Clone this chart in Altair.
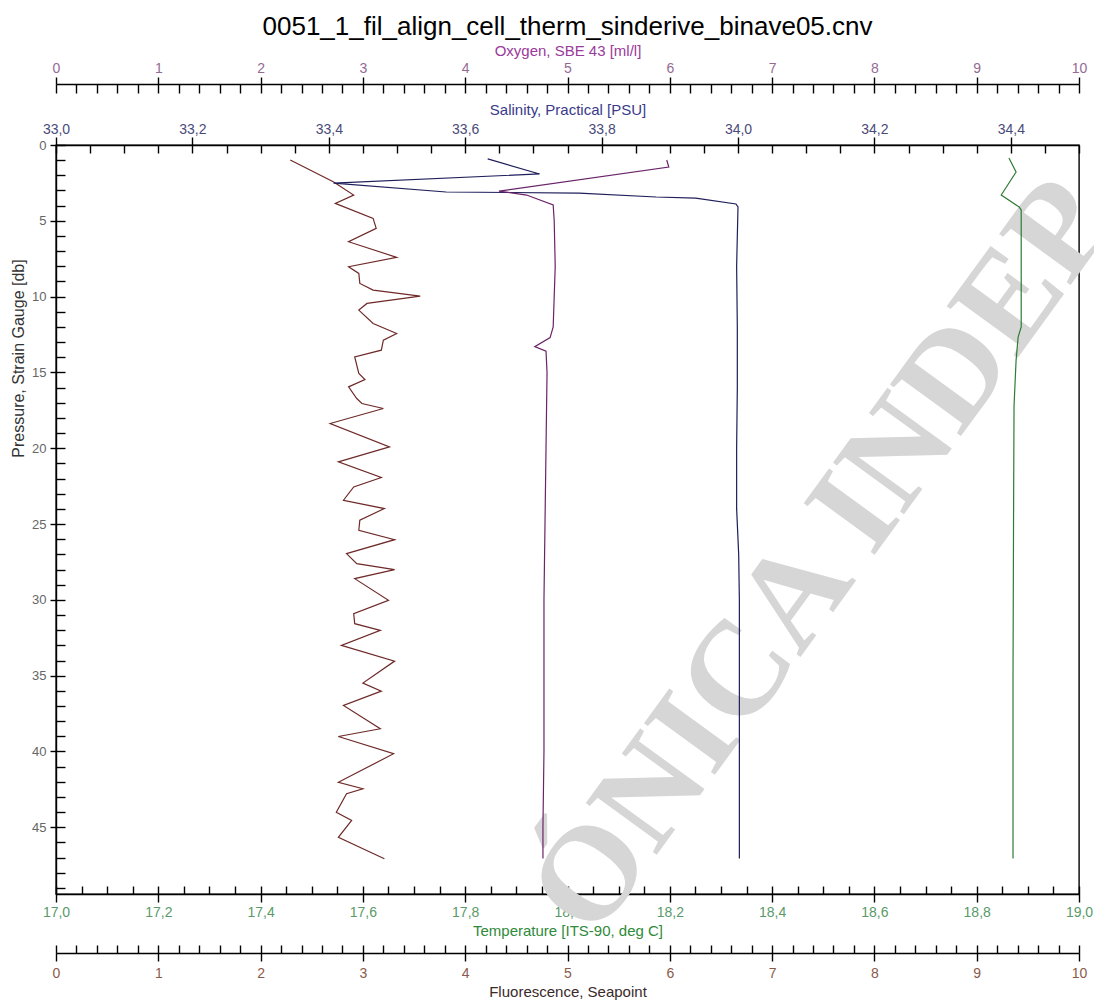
import altair as alt
import pandas as pd

TITLE = "0051_1_fil_align_cell_therm_sinderive_binave05.cnv"

# Fluorescence (Seapoint)
fl_p = [0.99, 2.42, 3.30, 3.85, 4.84, 5.50, 6.38, 7.41, 8.03, 8.47, 9.13, 9.57, 9.97, 10.45, 10.89,
        11.77, 12.43, 12.87, 13.53, 13.97, 15.07, 15.47, 15.95, 16.72, 17.05, 17.38, 18.37, 19.91,
        20.90, 21.93, 22.55, 23.43, 23.98, 24.75, 25.41, 26.03, 26.95, 27.61, 28.01, 28.60, 30.03,
        30.91, 31.57, 32.01, 33.00, 34.04, 35.49, 36.02, 36.96, 38.50, 39.01, 40.15, 42.03, 42.46,
        42.79, 44.01, 44.55, 45.66, 47.08]
fl_v = [2.29, 2.71, 2.91, 2.73, 3.10, 3.13, 2.86, 3.33, 2.86, 2.96, 2.97, 3.10, 3.56, 3.04, 2.96,
        3.10, 3.33, 3.20, 3.18, 2.92, 2.96, 3.02, 2.86, 2.94, 2.99, 3.20, 2.68, 3.26,
        2.76, 3.18, 2.91, 2.81, 3.21, 2.97, 2.96, 3.31, 2.84, 2.94, 3.31, 2.92, 3.25,
        2.91, 2.92, 3.17, 2.79, 3.31, 3.00, 3.18, 2.81, 3.17, 2.76, 3.30, 2.76, 3.00,
        2.84, 2.74, 2.89, 2.76, 3.21]

# Salinity, Practical [PSU]
sal_p = [0.92, 1.91, 2.51, 3.10, 3.17, 3.43, 3.50, 3.89, 4.09, 8.0, 12.0, 16.0, 20.0, 24.0, 27.0,
         30.0, 35.0, 40.0, 45.0, 47.06]
sal_v = [33.633, 33.709, 33.407, 33.572, 33.767, 33.880, 33.938, 33.997, 34.000, 33.998, 33.999,
         33.999, 33.998, 33.998, 34.001, 34.002, 34.002, 34.002, 34.002, 34.002]

# Oxygen, SBE 43 [ml/l]
ox_p = [0.99, 1.45, 3.04, 3.30, 3.96, 5.0, 8.0, 10.0, 12.0, 12.7, 13.3, 13.6, 15.0, 20.0, 25.0,
        30.0, 35.0, 40.0, 45.0, 47.06]
ox_v = [5.97, 5.99, 4.33, 4.60, 4.86, 4.87, 4.88, 4.87, 4.86, 4.83, 4.68, 4.79, 4.80, 4.79, 4.78,
        4.77, 4.77, 4.77, 4.76, 4.76]

# Temperature [ITS-90, deg C]
tp_p = [0.86, 1.78, 3.30, 4.09, 4.29, 8.0, 12.0, 12.67, 14.2, 17.2, 25.0, 35.0, 47.06]
tp_v = [18.863, 18.877, 18.848, 18.883, 18.887, 18.887, 18.887, 18.881, 18.877, 18.873, 18.872,
        18.871, 18.871]

# axis tick values
ox_major = [0, 1, 2, 3, 4, 5, 6, 7, 8, 9, 10]
ox_minor = [round(i * 0.2, 2) for i in range(51)]
sal_major = [33.0, 33.2, 33.4, 33.6, 33.8, 34.0, 34.2, 34.4]
sal_minor = [round(33.0 + i * 0.05, 2) for i in range(31)]
tp_major = [17.0, 17.2, 17.4, 17.6, 17.8, 18.0, 18.2, 18.4, 18.6, 18.8, 19.0]
tp_minor = [round(17.0 + i * 0.05, 2) for i in range(41)]
y_major = [0, 5, 10, 15, 20, 25, 30, 35, 40, 45]
y_minor = list(range(50))

fl_df = pd.DataFrame({"P": fl_p, "V": fl_v})
sal_df = pd.DataFrame({"P": sal_p, "V": sal_v})
ox_df = pd.DataFrame({"P": ox_p, "V": ox_v})
tp_df = pd.DataFrame({"P": tp_p, "V": tp_v})

FONT = "Liberation Sans"
COMMA = "replace(format(datum.value, '.1f'), '.', ',')"

ys = alt.Scale(domain=[0, 49.4], reverse=True, nice=False, zero=False)
sc_ox = alt.Scale(domain=[0, 10], nice=False, zero=False)
sc_sal = alt.Scale(domain=[33.0, 34.5], nice=False, zero=False)
sc_tp = alt.Scale(domain=[17.0, 19.0], nice=False, zero=False)
sc_fl = alt.Scale(domain=[0, 10], nice=False, zero=False)

common = dict(grid=False, labelFlush=False, labelOverlap=False, labelFont=FONT,
              titleFont=FONT, titleFontWeight="normal",
              domainColor="black", domainWidth=1.4, tickColor="black", tickWidth=1.4)


def minor(orient, offset, values, size=8):
    return alt.Axis(orient=orient, offset=offset, values=values, grid=False, labels=False,
                    domain=False, tickColor="black", tickWidth=1.4, tickSize=size)


def line(df, color, xscale, xaxis, yaxis):
    return alt.Chart(df).mark_line(color=color, strokeWidth=1.2).encode(
        x=alt.X("V:Q", scale=xscale, axis=xaxis),
        y=alt.Y("P:Q", scale=ys, axis=yaxis),
        order="P:Q",
    )


def ghost(df, xscale, xaxis, yaxis):
    return alt.Chart(df).mark_line(opacity=0).encode(
        x=alt.X("V:Q", scale=xscale, axis=xaxis, title=None),
        y=alt.Y("P:Q", scale=ys, axis=yaxis, title=None),
        order="P:Q",
    )


y_main = alt.Axis(orient="left", values=y_major, tickSize=6, labelPadding=4, labelColor="#666666",
                  labelFontSize=13,
                  title="Pressure, Strain Gauge [db]", titleColor="#333333", titleFontSize=16,
                  titleX=-38, titleY=213, titleAngle=270, titleAlign="center",
                  titleBaseline="middle", **common)
y_minor_ax = minor("left", -9, y_minor, 9)

fl_main = alt.Axis(orient="bottom", offset=59, values=ox_major, tickSize=8, labelPadding=5,
                   titlePadding=4, format="d", labelColor="#8a5a4a", labelFontSize=14,
                   titleFontSize=15,
                   title="Fluorescence, Seapoint", titleColor="#3a2a2a", **common)
fl_min = minor("bottom", 51, ox_minor)

tp_main = alt.Axis(orient="bottom", offset=0, values=tp_major, tickSize=8, labelPadding=3,
                   titlePadding=4, labelExpr=COMMA, labelColor="#5a9a6a", labelFontSize=14,
                   titleFontSize=15,
                   title="Temperature [ITS-90, deg C]", titleColor="#2f8a3a", **common)
tp_min = minor("bottom", -8, tp_minor)

sal_main = alt.Axis(orient="top", offset=0, values=sal_major, tickSize=8, labelPadding=1,
                    titlePadding=5, labelExpr=COMMA, labelColor="#4a4a7a", labelFontSize=14,
                    titleFontSize=15,
                    title="Salinity, Practical [PSU]", titleColor="#3a3a8a", **common)
sal_min = minor("top", -8, sal_minor)

ox_main = alt.Axis(orient="top", offset=61, values=ox_major, tickSize=7, labelPadding=2,
                   titlePadding=3, format="d", labelColor="#946a94", labelFontSize=14,
                   titleFontSize=15,
                   title="Oxygen, SBE 43 [ml/l]", titleColor="#9a3a9a", **common)
ox_min = minor("top", 52, ox_minor, 9)

watermark = alt.Chart(pd.DataFrame({"t": ["ÓNICA INDEP"]})).mark_text(
    angle=306, font="Liberation Serif", fontWeight="bold", fontSize=134, color="#d6d6d6",
    align="left", baseline="alphabetic"
).encode(x=alt.value(538), y=alt.value(796), text="t:N")

chart = alt.layer(
    watermark,
    line(fl_df, "#6e2a28", sc_fl, fl_main, y_main),
    ghost(fl_df, sc_fl, fl_min, y_minor_ax),
    line(tp_df, "#2f7a35", sc_tp, tp_main, None),
    ghost(tp_df, sc_tp, tp_min, None),
    line(sal_df, "#1e1e5a", sc_sal, sal_main, None),
    ghost(sal_df, sc_sal, sal_min, None),
    line(ox_df, "#6a2468", sc_ox, ox_main, None),
    ghost(ox_df, sc_ox, ox_min, None),
).resolve_scale(x="independent", y="independent").resolve_axis(
    x="independent", y="independent"
).properties(
    width=1023, height=749,
    autosize=alt.AutoSizeParams(type="none"),
    padding={"left": 48, "top": 137, "right": 15, "bottom": 106},
    title=alt.TitleParams(text=TITLE, font=FONT, fontSize=26, fontWeight="normal",
                          color="black", anchor="middle", offset=3),
).configure_view(stroke="black", strokeWidth=1.4)

chart.save("out.html", embed_options={"renderer": "svg", "actions": False})
